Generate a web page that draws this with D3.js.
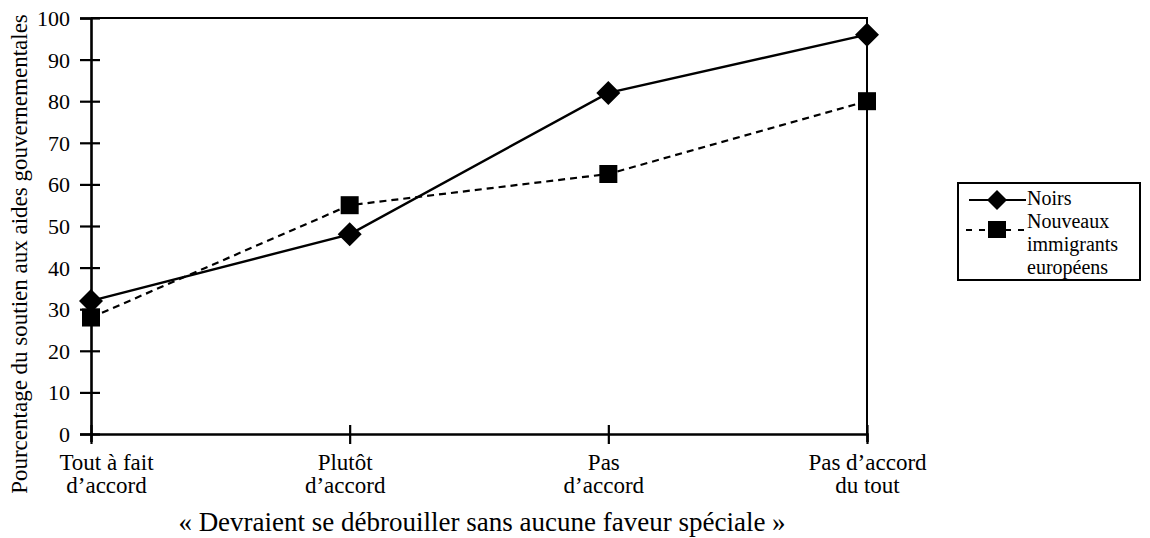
<!DOCTYPE html>
<html><head><meta charset="utf-8">
<script src="https://cdn.jsdelivr.net/npm/d3@7"></script>
<style>body{margin:0;background:#fff}svg{display:block}text{font-family:"Liberation Serif","Times New Roman",serif;fill:#000}</style>
</head><body><svg id="c" width="1150" height="538"></svg>
<script>
const categories = [["Tout à fait","d’accord"],["Plutôt","d’accord"],["Pas","d’accord"],["Pas d’accord","du tout"]];
const noirs = [32, 48, 82, 96];
const immigrants = [28, 55, 62.5, 80];
const yTicks = [0,10,20,30,40,50,60,70,80,90,100];
const legendNames = ["Noirs", ["Nouveaux","immigrants","européens"]];

const svg = d3.select("#c");
const L = 91, R = 867, T = 18, B = 434;
const x = d3.scalePoint().domain(d3.range(categories.length)).range([L, R]);
const y = d3.scaleLinear().domain([0,100]).range([B, T]);

// frame top/right
svg.append("path").attr("d",`M${L},${T}H${R}V${B}`).attr("fill","none").attr("stroke","#000").attr("stroke-width",2);

// y axis
const ya = svg.append("g").attr("transform",`translate(${L},0)`)
  .call(d3.axisLeft(y).tickValues(yTicks).tickSize(11));
ya.select(".domain").attr("stroke-width",2.6);
ya.selectAll(".tick line").attr("x2",9).attr("x1",-11).attr("stroke-width",2.2);
ya.selectAll(".tick text").style("font-size","22px").style("font-family","Liberation Serif").attr("x",-21).attr("dy","0.34em");

// x axis
const xa = svg.append("g").attr("transform",`translate(0,${B})`)
  .call(d3.axisBottom(x).tickSize(8).tickFormat(""));
xa.select(".domain").attr("stroke-width",2.6);
xa.selectAll(".tick line").attr("y1",-9).attr("y2",10).attr("stroke-width",2.2);
xa.selectAll(".tick").each(function(d){
  const t = d3.select(this).append("text").attr("text-anchor","middle")
    .style("font-size","23px").style("font-family","Liberation Serif");
  const dx = d === 0 ? 15 : (d === 1 || d === 2 ? -5 : 0);
  categories[d].forEach((s,i)=>t.append("tspan").attr("x",dx).attr("y",36 + i*23).text(s));
});

// axis titles
svg.append("text").attr("transform",`translate(27,${254}) rotate(-90)`).attr("text-anchor","middle")
  .style("font-size","23px").text("Pourcentage du soutien aux aides gouvernementales");
svg.append("text").attr("x",482).attr("y",531).attr("text-anchor","middle").style("font-size","27px")
  .text("« Devraient se débrouiller sans aucune faveur spéciale »");

const line = d3.line().x((d,i)=>x(i)).y(d=>y(d));
svg.append("path").datum(immigrants).attr("d",line).attr("fill","none").attr("stroke","#000").attr("stroke-width",2.2).attr("stroke-dasharray","7,5");
svg.append("path").datum(noirs).attr("d",line).attr("fill","none").attr("stroke","#000").attr("stroke-width",2.4);

const diamond = "M0,-12L12,0L0,12L-12,0Z";
svg.selectAll(".dm").data(noirs).join("path").attr("d",diamond)
  .attr("transform",(d,i)=>`translate(${x(i)},${y(d)})`).attr("fill","#000");
svg.selectAll(".sq").data(immigrants).join("rect")
  .attr("x",(d,i)=>x(i)-9).attr("y",d=>y(d)-9).attr("width",18).attr("height",18).attr("fill","#000");

// legend
const lg = svg.append("g");
lg.append("rect").attr("x",958).attr("y",183).attr("width",182).attr("height",97).attr("fill","none").attr("stroke","#000").attr("stroke-width",2);
lg.append("line").attr("x1",969).attr("x2",1026).attr("y1",200).attr("y2",200).attr("stroke","#000").attr("stroke-width",2);
lg.append("path").attr("d","M0,-10L10,0L0,10L-10,0Z").attr("transform","translate(997,200)").attr("fill","#000");
lg.append("line").attr("x1",966).attr("x2",1030).attr("y1",230).attr("y2",230).attr("stroke","#000").attr("stroke-width",2.2).attr("stroke-dasharray","6,7");
lg.append("rect").attr("x",988).attr("y",221).attr("width",18).attr("height",17).attr("fill","#000");
lg.append("text").attr("x",1027).attr("y",205).style("font-size","20px").text(legendNames[0]);
const t2 = lg.append("text").style("font-size","20px");
legendNames[1].forEach((s,i)=>t2.append("tspan").attr("x",1027).attr("y",228+i*23).text(s));
</script></body></html>
